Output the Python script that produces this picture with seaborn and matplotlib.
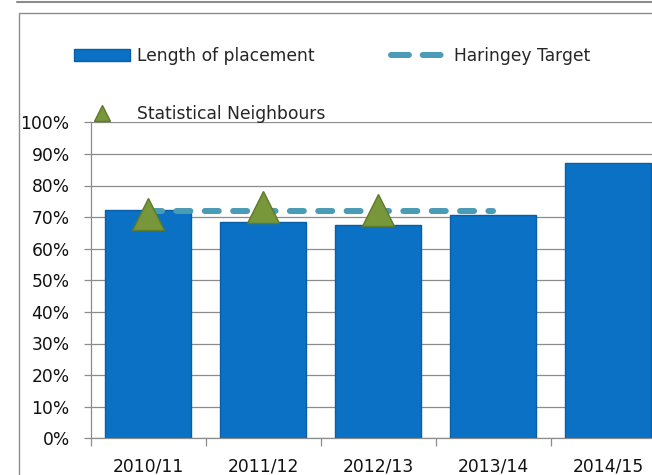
import numpy as np
import pandas as pd
import matplotlib
matplotlib.use('Agg')
import matplotlib.pyplot as plt
import seaborn as sns
from matplotlib.lines import Line2D
from matplotlib.patches import Patch, Rectangle
from matplotlib.ticker import PercentFormatter, MultipleLocator

# ---- data ----
categories = ['2010/11', '2011/12', '2012/13', '2013/14', '2014/15']
placement = [0.721, 0.686, 0.676, 0.708, 0.870]
haringey_target = [0.72, 0.72, 0.72, 0.72, np.nan]
stat_neighbours = [0.71, 0.733, 0.723, np.nan, np.nan]

BAR = '#0A71C4'
BAR_EDGE = '#0A5EA6'
TARGET = '#4A9BB5'
TRI = '#78963A'
TRI_EDGE = '#5E7A2B'
GRID = '#8C8C8C'

sns.set_theme(style='white')
plt.rcParams['font.family'] = ['DejaVu Sans']
FS = 12.3

fig = plt.figure(figsize=(6.52, 4.75), dpi=100)
W, H = 652, 475
ax = fig.add_axes([90.5 / W, 1 - 438.3 / H, 575 / W, (438.3 - 122.3) / H])

df = pd.DataFrame({'Year': categories, 'Length': placement})
sns.barplot(data=df, x='Year', y='Length', order=categories, color=BAR,
            saturation=1, width=0.74, edgecolor=BAR_EDGE, linewidth=1,
            ax=ax, zorder=2)

xpos = np.arange(len(categories))
ax.plot(xpos, haringey_target, color=TARGET, lw=4.3, dashes=(2.35, 2.4),
        dash_capstyle='round', zorder=3)
ax.plot(xpos, stat_neighbours, marker='^', ms=23, ls='none', color=TRI,
        mec=TRI_EDGE, mew=1, zorder=4)

ax.set_ylim(0, 1)
ax.set_xlim(-0.5, len(categories) - 0.5)
ax.yaxis.set_major_locator(MultipleLocator(0.1))
ax.yaxis.set_major_formatter(PercentFormatter(1.0, decimals=0))
ax.yaxis.grid(True, color=GRID, lw=0.9, zorder=0)
ax.set_axisbelow(True)

ax.set_xticks(np.arange(-0.5, len(categories), 1), labels=[])
ax.set_xticks(xpos, labels=categories, minor=True)
ax.tick_params(axis='x', which='major', bottom=True, length=6, color=GRID, width=0.9)
ax.tick_params(axis='x', which='minor', bottom=True, length=0, pad=14,
               labelsize=FS, labelcolor='#111111')
ax.tick_params(axis='y', left=True, length=5, color=GRID, width=0.9, pad=10,
               labelsize=FS, labelcolor='#111111')
ax.set_xlabel('')
ax.set_ylabel('')
for s in ['top', 'right']:
    ax.spines[s].set_visible(False)
for s in ['left', 'bottom']:
    ax.spines[s].set_color(GRID)
    ax.spines[s].set_linewidth(0.9)

handles = [
    Patch(facecolor=BAR, edgecolor=BAR_EDGE),
    Line2D([], [], marker='^', ms=12.2, ls='none', color=TRI, mec=TRI_EDGE),
    Line2D([], [], color=TARGET, lw=4.3, dashes=(3.0, 2.3), dash_capstyle='round'),
]
labels = ['Length of placement', 'Statistical Neighbours', 'Haringey Target']
fig.legend(handles, labels, ncol=2, loc='upper left',
           bbox_to_anchor=(74 / W, 1 - 47 / H), frameon=False, borderpad=0,
           borderaxespad=0, handlelength=3.3, handletextpad=0.4,
           columnspacing=3.8, labelspacing=2.33, fontsize=FS)

# chart frame and top rule
fig.add_artist(Rectangle((19 / W, -0.05), 1.0, 1 - 12.7 / H + 0.05,
                         transform=fig.transFigure, fill=False,
                         edgecolor='#8C8C8C', lw=1))
fig.add_artist(Line2D([17 / W, 1], [1 - 1.5 / H] * 2, transform=fig.transFigure,
                      color='#8C8C8C', lw=1.5))

fig.savefig('out.png', dpi=100)
